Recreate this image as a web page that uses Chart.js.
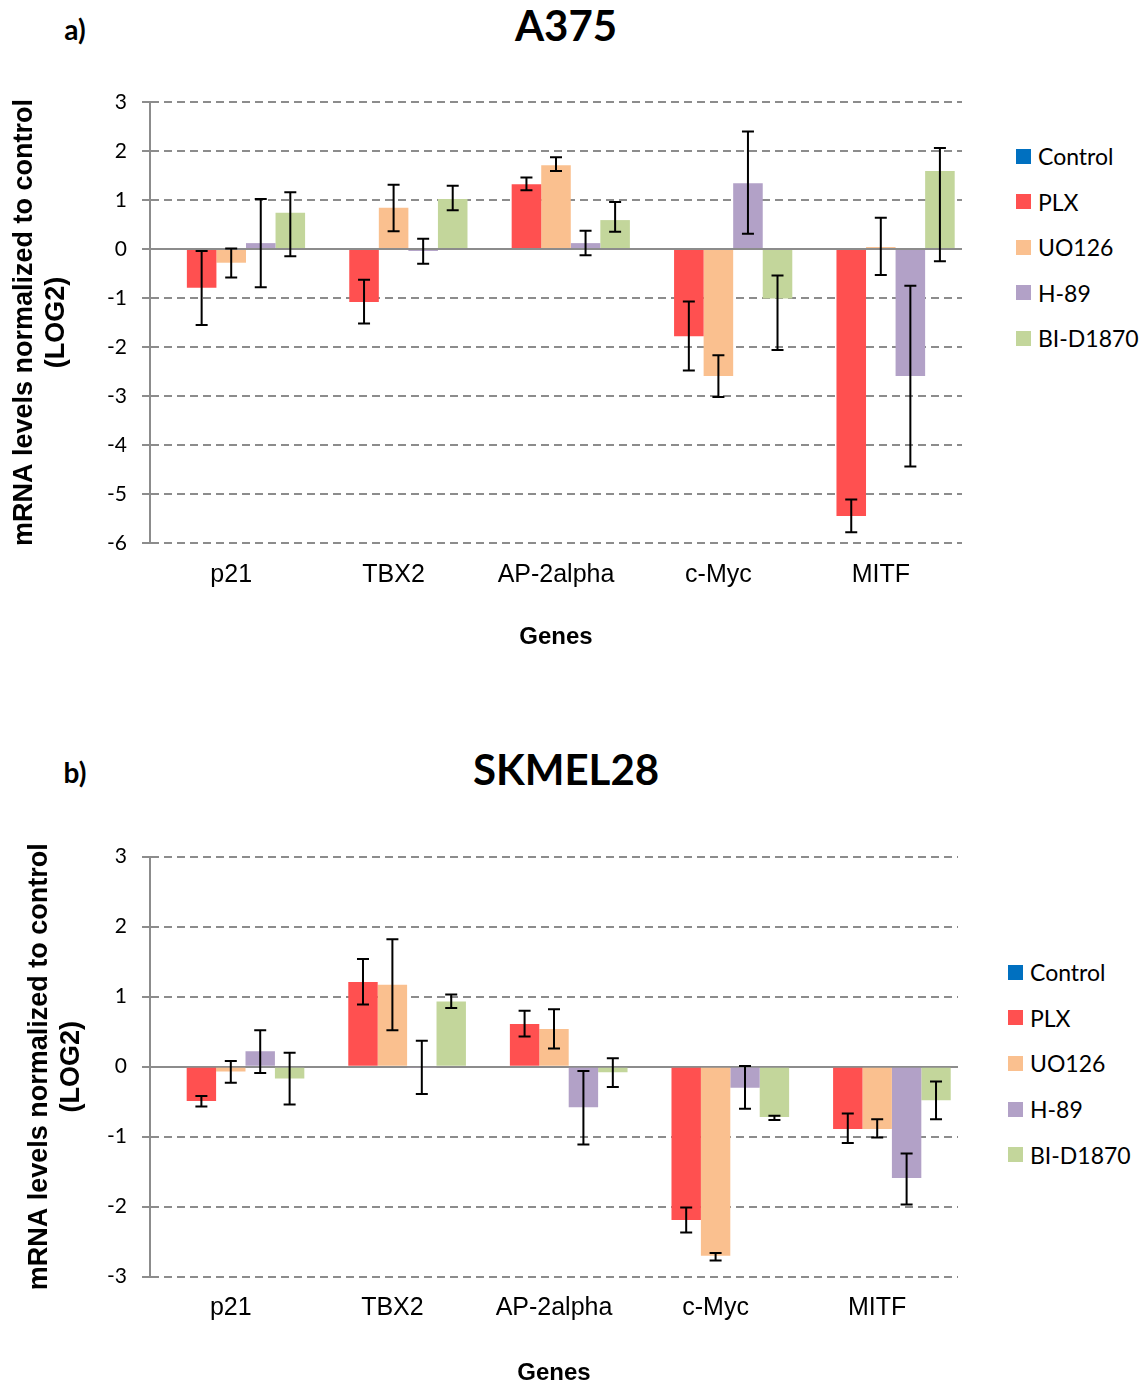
<!DOCTYPE html>
<html>
<head>
<meta charset="utf-8">
<script src="https://cdn.jsdelivr.net/npm/chart.js@4.4.0/dist/chart.umd.min.js"></script>
<style>
  body { margin: 0; background: #fff; }
  #page { position: relative; width: 1143px; height: 1389px; background: #fff; overflow: hidden; }
  canvas { position: absolute; left: 0; }
  .title { position: absolute; transform: translate(-50%, -50%); font-family: Lato, sans-serif; font-weight: bold; line-height: 1; color: #000; white-space: nowrap; }
  .panel { position: absolute; transform: translate(-50%, -50%); font-family: Lato, sans-serif; font-weight: bold; font-size: 28px; line-height: 1; color: #000; }
  .legend-row { position: absolute; height: 30px; display: flex; align-items: center; font-family: Lato, sans-serif; font-size: 23px; color: #000; white-space: nowrap; }
  .legend-row span.box { display: inline-block; width: 15px; height: 15px; margin-right: 7px; }
</style>
</head>
<body>
<div id="page">
  <div class="panel" style="left:75px; top:29px;">a)</div>
  <div class="title" style="left:566px; top:25px; font-size:42px;">A375</div>
  <canvas id="chartA" width="1000" height="690" style="top:0px;"></canvas>

  <div class="panel" style="left:75px; top:772px;">b)</div>
  <div class="title" style="left:566px; top:769px; font-size:42px;">SKMEL28</div>
  <canvas id="chartB" width="1000" height="689" style="top:700px;"></canvas>
</div>
<script>
// genes on the x axis, same for both panels
const genes = ["p21", "TBX2", "AP-2alpha", "c-Myc", "MITF"];
const treatments = ["Control", "PLX", "UO126", "H-89", "BI-D1870"];
const colors = ["#0070C0", "#FF5050", "#FAC08F", "#B2A1C7", "#C3D69B"];

// A375 (log2 vs control)
const a375_control = [0, 0, 0, 0, 0];
const a375_plx = [-0.79, -1.08, 1.32, -1.78, -5.45];
const a375_plx_up = [0.75, 0.45, 0.14, 0.71, 0.34];
const a375_plx_down = [0.76, 0.44, 0.12, 0.70, 0.33];
const a375_uo126 = [-0.28, 0.84, 1.71, -2.59, 0.04];
const a375_uo126_up = [0.29, 0.47, 0.16, 0.42, 0.60];
const a375_uo126_down = [0.30, 0.48, 0.12, 0.43, 0.57];
const a375_h89 = [0.12, -0.04, 0.12, 1.34, -2.59];
const a375_h89_up = [0.90, 0.25, 0.25, 1.06, 1.84];
const a375_h89_down = [0.90, 0.26, 0.25, 1.03, 1.85];
const a375_bi = [0.74, 1.02, 0.59, -1.01, 1.59];
const a375_bi_up = [0.42, 0.27, 0.37, 0.47, 0.47];
const a375_bi_down = [0.89, 0.23, 0.24, 1.05, 1.84];

// SKMEL28
const skmel_control = [0, 0, 0, 0, 0];
const skmel_plx = [-0.49, 1.21, 0.61, -2.19, -0.89];
const skmel_plx_up = [0.07, 0.33, 0.19, 0.18, 0.22];
const skmel_plx_down = [0.08, 0.32, 0.18, 0.18, 0.20];
const skmel_uo126 = [-0.07, 1.17, 0.54, -2.70, -0.89];
const skmel_uo126_up = [0.15, 0.65, 0.28, 0.04, 0.14];
const skmel_uo126_down = [0.16, 0.65, 0.28, 0.07, 0.12];
const skmel_h89 = [0.22, -0.01, -0.58, -0.30, -1.59];
const skmel_h89_up = [0.30, 0.38, 0.52, 0.31, 0.35];
const skmel_h89_down = [0.31, 0.38, 0.53, 0.30, 0.38];
const skmel_bi = [-0.17, 0.93, -0.08, -0.72, -0.48];
const skmel_bi_up = [0.37, 0.10, 0.20, 0.02, 0.27];
const skmel_bi_down = [0.37, 0.09, 0.21, 0.04, 0.27];

const gridGrey = "#8c8c8c";

// draws the black error bars on top of the bars
const errorBars = {
    id: "errorBars",
    afterDatasetsDraw(chart) {
        const ctx = chart.ctx;
        const yScale = chart.scales.y;
        ctx.save();
        ctx.strokeStyle = "#000";
        ctx.lineWidth = 2;
        chart.data.datasets.forEach((ds, i) => {
            if (!ds.errUp) return;
            const meta = chart.getDatasetMeta(i);
            meta.data.forEach((bar, j) => {
                const v = ds.data[j];
                const yTop = yScale.getPixelForValue(v + ds.errUp[j]);
                const yBot = yScale.getPixelForValue(v - ds.errDown[j]);
                ctx.beginPath();
                ctx.moveTo(bar.x, yTop);
                ctx.lineTo(bar.x, yBot);
                ctx.moveTo(bar.x - 6, yTop);
                ctx.lineTo(bar.x + 6, yTop);
                ctx.moveTo(bar.x - 6, yBot);
                ctx.lineTo(bar.x + 6, yBot);
                ctx.stroke();
            });
        });
        ctx.restore();
    }
};

function makeDatasets(series) {
    return series.map((s, i) => ({
        label: treatments[i],
        data: s[0],
        errUp: s[1],
        errDown: s[2],
        backgroundColor: colors[i],
        borderWidth: 0
    }));
}

function makeChart(id, datasets, opt) {
    return new Chart(document.getElementById(id).getContext("2d"), {
        type: "bar",
        data: { labels: genes, datasets: datasets },
        options: {
            responsive: false,
            animation: false,
            devicePixelRatio: 1,
            layout: { padding: { top: opt.padTop, right: opt.padRight, bottom: 0, left: 0 } },
            datasets: { bar: { categoryPercentage: 0.91, barPercentage: 1.0 } },
            plugins: { legend: { display: false }, tooltip: { enabled: false } },
            scales: {
                x: {
                    grid: { display: false, drawTicks: false },
                    border: { display: false },
                    ticks: { color: "#000", padding: opt.xTickPad, font: { family: "Liberation Sans", size: 25 } },
                    title: {
                        display: true, text: "Genes", color: "#000",
                        font: { family: "Liberation Sans", size: 24, weight: "bold" },
                        padding: { top: 0, bottom: opt.genesPad }
                    },
                    afterFit: s => { s.height = opt.xHeight; }
                },
                y: {
                    min: opt.min, max: opt.max,
                    ticks: { stepSize: 1, color: "#000", padding: 15, font: { family: "Lato", size: 21 } },
                    grid: {
                        color: gridGrey, lineWidth: 2, tickLength: 8, drawTicks: true
                    },
                    border: {
                        display: true, color: gridGrey, width: 2,
                        dash: c => (c.type === "tick" && c.tick && c.tick.value !== 0) ? [8, 5] : []
                    },
                    title: {
                        display: true, color: "#000",
                        text: ["mRNA levels normalized to control", "(LOG2)"],
                        font: { family: "Liberation Sans", size: 27, weight: "bold", lineHeight: 1.185 },
                        padding: { top: opt.yTitlePad, bottom: 0 }
                    },
                    afterFit: s => { s.width = 150; }
                }
            }
        },
        plugins: [errorBars]
    });
}

makeChart("chartA", makeDatasets([
    [a375_control, null, null],
    [a375_plx, a375_plx_up, a375_plx_down],
    [a375_uo126, a375_uo126_up, a375_uo126_down],
    [a375_h89, a375_h89_up, a375_h89_down],
    [a375_bi, a375_bi_up, a375_bi_down]
]), { min: -6, max: 3, padTop: 102, padRight: 38, xHeight: 147, genesPad: 38.6, xTickPad: 17, yTitlePad: 9 });

makeChart("chartB", makeDatasets([
    [skmel_control, null, null],
    [skmel_plx, skmel_plx_up, skmel_plx_down],
    [skmel_uo126, skmel_uo126_up, skmel_uo126_down],
    [skmel_h89, skmel_h89_up, skmel_h89_down],
    [skmel_bi, skmel_bi_up, skmel_bi_down]
]), { min: -3, max: 3, padTop: 156.7, padRight: 42, xHeight: 112.3, genesPad: 1.6, xTickPad: 16, yTitlePad: 24 });

// legends, one per panel
function addLegend(left, firstY, step) {
    const page = document.getElementById("page");
    treatments.forEach((name, i) => {
        const row = document.createElement("div");
        row.className = "legend-row";
        row.style.left = left + "px";
        row.style.top = (firstY + i * step - 15) + "px";
        const box = document.createElement("span");
        box.className = "box";
        box.style.background = colors[i];
        row.appendChild(box);
        row.appendChild(document.createTextNode(name));
        page.appendChild(row);
    });
}
addLegend(1016, 156, 45.5);
addLegend(1008, 972, 45.7);
</script>
</body>
</html>
